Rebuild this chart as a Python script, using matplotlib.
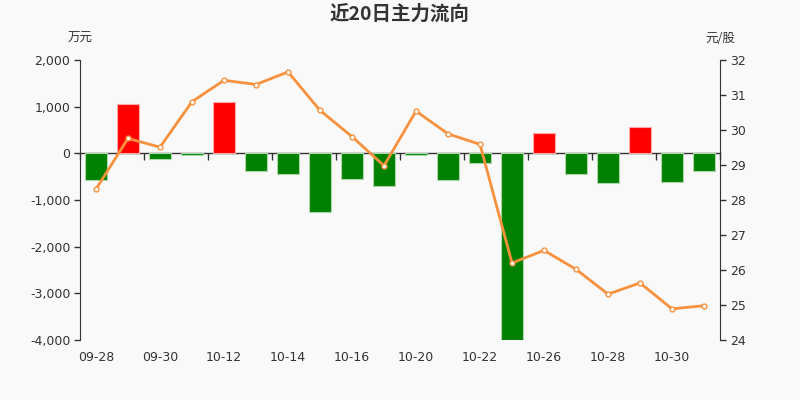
import matplotlib
matplotlib.use("Agg")
import matplotlib.pyplot as plt
from matplotlib.ticker import FuncFormatter, MultipleLocator

dates = ["09-28", "09-29", "09-30", "10-09", "10-12", "10-13", "10-14", "10-15", "10-16", "10-19",
         "10-20", "10-21", "10-22", "10-23", "10-26", "10-27", "10-28", "10-29", "10-30", "11-02"]
flow = [-580, 1063, -130, -25, 1100, -386, -436, -1250, -543, -707,
        -36, -565, -200, -3990, 443, -443, -643, 557, -615, -386]
price = [28.31, 29.76, 29.51, 30.81, 31.42, 31.30, 31.66, 30.56, 29.81, 28.98,
         30.54, 29.89, 29.59, 26.20, 26.56, 26.02, 25.31, 25.63, 24.89, 24.98]
left_lim = (-4000, 2000)
right_lim = (24, 32)

bg = "#f9f9f9"
txt = "#333333"
plt.rcParams['font.family'] = ['DejaVu Sans', 'Noto Sans CJK SC']

fig = plt.figure(figsize=(8, 4), dpi=100, facecolor=bg)
ax = fig.add_axes([0.1, 0.15, 0.8, 0.7], facecolor=bg)

x = list(range(len(dates)))
colors = ["#ff0000" if v >= 0 else "#008000" for v in flow]
edges = ["#ffaaaa" if v >= 0 else "#aad8aa" for v in flow]
ax.bar(x, flow, width=0.69, color=colors, edgecolor=edges, linewidth=0.8, zorder=2)

ax.set_xlim(-0.5, len(dates) - 0.5)
ax.set_ylim(*left_lim)
ax.yaxis.set_major_locator(MultipleLocator(1000))
ax.yaxis.set_major_formatter(FuncFormatter(lambda v, p: f"{int(v):,}"))
ax.set_xticks(x[::2])
ax.set_xticklabels(dates[::2])
ax.tick_params(axis='x', length=0, pad=8, labelsize=9, labelcolor=txt)
ax.tick_params(axis='y', length=4, width=1, color=txt, labelsize=9, labelcolor=txt, pad=3)
for s in ['top', 'bottom', 'right']:
    ax.spines[s].set_visible(False)
ax.spines['left'].set_color(txt)

zero_frac = (0 - left_lim[0]) / (left_lim[1] - left_lim[0])
sec = ax.secondary_xaxis(zero_frac)
sec.set_xticks([i - 0.5 for i in range(0, len(dates) + 1, 2)])
sec.set_xticklabels([])
sec.tick_params(axis='x', direction='in', length=5, width=1, color=txt)
sec.spines['top'].set_color(txt)
sec.spines['top'].set_linewidth(1)
sec.spines['bottom'].set_visible(False)

ax2 = ax.twinx()
ax2.plot(x, price, color="#f7913d", linewidth=2, marker='o', markersize=3.5,
         markerfacecolor='white', markeredgecolor="#f7913d", markeredgewidth=1, zorder=3)
ax2.set_ylim(*right_lim)
ax2.yaxis.set_major_locator(MultipleLocator(1))
ax2.tick_params(axis='y', length=4, width=1, color=txt, labelsize=9, labelcolor=txt, pad=3)
for s in ['top', 'bottom', 'left']:
    ax2.spines[s].set_visible(False)
ax2.spines['right'].set_color(txt)

fig.text(0.5, 1 - 14 / 400, "近20日主力流向", ha='center', va='center', fontsize=14,
         fontweight='bold', color=txt, family=['Noto Sans CJK SC', 'DejaVu Sans'])
fig.text(80 / 800, 1 - 38 / 400, "万元", ha='center', va='center', fontsize=9,
         color=txt, family=['Noto Sans CJK SC', 'DejaVu Sans'])
fig.text(720 / 800, 1 - 38 / 400, "元/股", ha='center', va='center', fontsize=9,
         color=txt, family=['Noto Sans CJK SC', 'DejaVu Sans'])

fig.savefig("out.png", dpi=100, facecolor=bg)
